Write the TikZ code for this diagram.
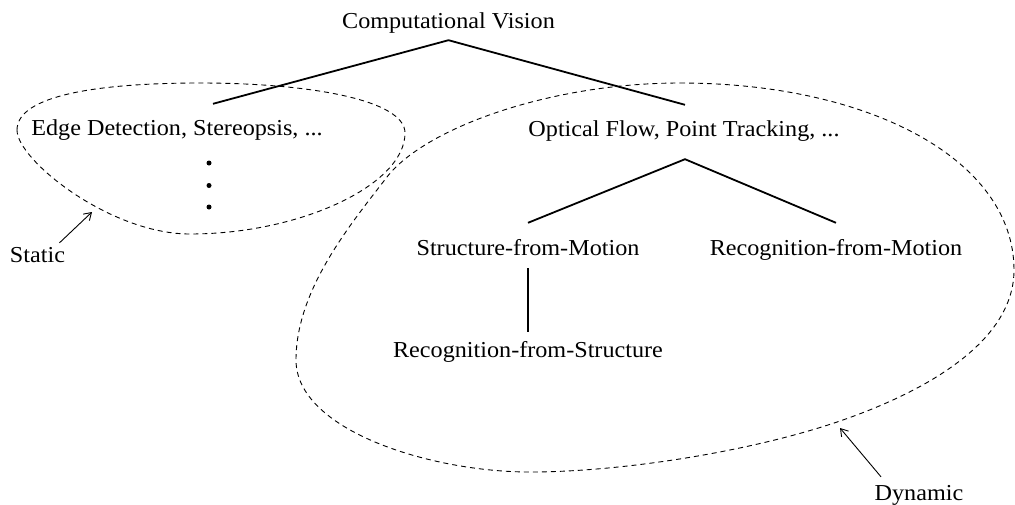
\documentclass[tikz,border=0pt]{standalone}
\usepackage{fontspec}
\setmainfont[FakeStretch=1.06]{Liberation Serif}
\usetikzlibrary{calc,arrows.meta}

\tikzset{
  label text/.style={anchor=base, inner sep=0pt, text height=16pt, text depth=5pt,
                     font=\fontsize{22.8}{26}\selectfont},
  branch/.style={line width=1.8pt},
  region/.style={line width=0.9pt, dash pattern=on 5pt off 4pt},
  pointer/.style={line width=0.9pt, -{Straight Barb[length=7pt,width=9pt,line width=0.9pt]}},
  dot/.style={circle, fill, inner sep=0pt, minimum size=5pt}
}

\begin{document}
\begin{tikzpicture}[x=1pt, y=-1pt]
  \useasboundingbox (0,0) rectangle (1015,504);

  % tree labels
  \node[label text] (cv)  at (448.5,28) {Computational Vision};
  \node[label text] (edge) at (177,135) {Edge Detection, Stereopsis, ...};
  \node[label text] (opt) at (684,136) {Optical Flow, Point Tracking, ...};
  \node[label text] (sfm) at (528,255) {Structure-from-Motion};
  \node[label text] (rfm) at (836,255) {Recognition-from-Motion};
  \node[label text] (rfs) at (528,357) {Recognition-from-Structure};

  % vertical ellipsis under the static branch
  \node[dot] (d1) at (209,163) {};
  \node[dot] (d2) at (209,185.5) {};
  \node[dot] (d3) at (209,207) {};

  % branches
  \draw[branch] ($(edge.north)+(36,-15)$) -- ($(cv.south)+(0,7)$) -- ($(opt.north)+(1,-15)$);
  \draw[branch] ($(sfm.north)+(0,-16)$) -- ($(opt.south)+(1,18)$) -- ($(rfm.north)+(0,-16)$);
  \draw[branch] ($(sfm.south)+(0,8)$) -- ($(rfs.north)+(0,-9)$);

  % static region
  \draw[region] (17,130)
      .. controls (17,95) and (100,83) .. (200,83)
      .. controls (310,83) and (405,100) .. (405,133)
      .. controls (405,185) and (300,234) .. (190,234)
      .. controls (110,234) and (17,160) .. cycle;

  % dynamic region
  \draw[region] (680,83)
      .. controls (870,83) and (1014,160) .. (1014,270)
      .. controls (1014,340) and (930,390) .. (840,421)
      .. controls (750,452) and (620,472) .. (530,472)
      .. controls (430,472) and (296,430) .. (296,360)
      .. controls (296,290) and (350,225) .. (387,177)
      .. controls (425,128) and (550,83) .. cycle;

  % region names
  \node[label text] (static) at (37.5,262) {Static};
  \node[label text] (dynamic) at (919,500) {Dynamic};
  \coordinate (sTip) at (92,212);
  \coordinate (dTip) at (840,428);
  \draw[pointer] ($(static.north)+(22,-3)$) -- (sTip);
  \draw[pointer] ($(dynamic.north)+(-38,-7)$) -- (dTip);
\end{tikzpicture}
\end{document}
